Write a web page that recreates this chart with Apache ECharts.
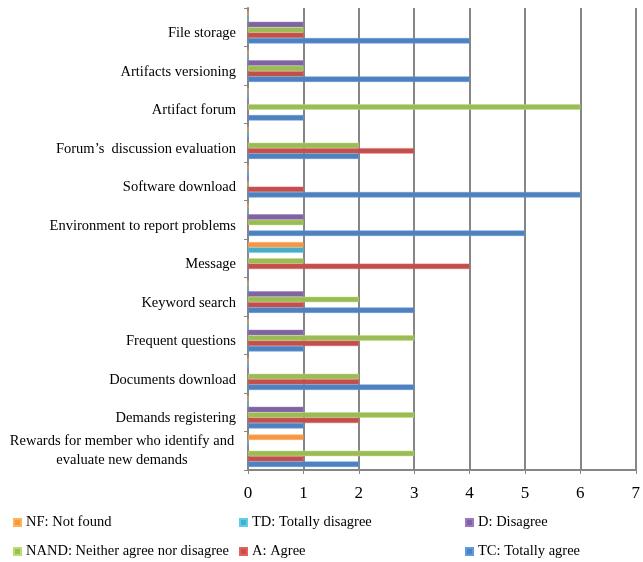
<!DOCTYPE html>
<html>
<head>
<meta charset="utf-8">
<script src="https://cdn.jsdelivr.net/npm/echarts@6/dist/echarts.min.js"></script>
<style>
  html, body { margin: 0; padding: 0; background: #fff; }
  #chart { width: 643px; height: 562px; }
</style>
</head>
<body>
<div id="chart"></div>
<script>
const categories = [
  'File storage',
  'Artifacts versioning',
  'Artifact forum',
  'Forum\u2019s  discussion evaluation',
  'Software download',
  'Environment to report problems',
  'Message',
  'Keyword search',
  'Frequent questions',
  'Documents download',
  'Demands registering',
  'Rewards for member who identify and\nevaluate new demands'
];

// values per category, top to bottom
const nf   = [0, 0, 0, 0, 0, 0, 1, 0, 0, 0, 0, 1];
const td   = [0, 0, 0, 0, 0, 0, 1, 0, 0, 0, 0, 0];
const dis  = [1, 1, 0, 0, 0, 1, 0, 1, 1, 0, 1, 0];
const nand = [1, 1, 6, 2, 0, 1, 1, 2, 3, 2, 3, 3];
const agr  = [1, 1, 0, 3, 1, 0, 4, 1, 2, 2, 2, 1];
const tc   = [4, 4, 1, 2, 6, 5, 0, 3, 1, 3, 1, 2];

const xTicks = [0, 1, 2, 3, 4, 5, 6, 7];

const seriesDefs = [
  { name: 'NF: Not found', data: nf, color: '#F79646' },
  { name: 'TD: Totally disagree', data: td, color: '#4BACC6' },
  { name: 'D: Disagree', data: dis, color: '#8064A2' },
  { name: 'NAND: Neither agree nor disagree', data: nand, color: '#9BBB59' },
  { name: 'A: Agree', data: agr, color: '#C0504D' },
  { name: 'TC: Totally agree', data: tc, color: '#4F81BD' }
];

const serif = '"Liberation Serif", "DejaVu Serif", serif';

// legend grid: 3 columns, 2 rows
const legendLeft = [13, 239, 465];
const legendTop = [515, 544];

const legends = seriesDefs.map(function (s, i) {
  return {
    left: legendLeft[i % 3],
    top: legendTop[Math.floor(i / 3)],
    padding: 0,
    itemWidth: 7,
    itemHeight: 7,
    itemGap: 0,
    icon: 'rect',
    data: [s.name],
    textStyle: { fontFamily: serif, fontSize: 14.5, color: '#000' }
  };
});

const chart = echarts.init(document.getElementById('chart'));
chart.setOption({
  animation: false,
  grid: { left: 248, top: 8, width: 400, height: 462 },
  legend: legends,
  xAxis: {
    type: 'value',
    min: xTicks[0],
    max: xTicks[xTicks.length - 1],
    interval: 1,
    axisLine: { show: true, lineStyle: { color: '#868686', width: 2 } },
    axisTick: { show: true, length: 4, lineStyle: { color: '#868686' } },
    axisLabel: { fontFamily: serif, fontSize: 17, color: '#000', margin: 15 },
    splitLine: { show: true, lineStyle: { color: '#868686', width: 2 } }
  },
  yAxis: {
    type: 'category',
    inverse: true,
    data: categories,
    axisLine: { show: true, lineStyle: { color: '#868686', width: 2 } },
    axisTick: { show: true, length: 4, lineStyle: { color: '#868686' } },
    axisLabel: {
      interval: 0,
      hideOverlap: false,
      fontFamily: serif,
      fontSize: 14.5,
      color: '#000',
      margin: 12,
      lineHeight: 19,
      formatter: function (v) {
        if (v.indexOf('\n') < 0) return '{s|' + v + '}';
        return v.split('\n').map(function (s) { return '{c|' + s + '}'; }).join('\n');
      },
      rich: {
        s: { fontFamily: serif, fontSize: 14.5, color: '#000', padding: [12, 0, 0, 0] },
        c: { fontFamily: serif, fontSize: 14.5, color: '#000', width: 228, align: 'center', lineHeight: 19 }
      }
    }
  },
  series: seriesDefs.map(function (s) {
    return {
      name: s.name,
      type: 'bar',
      data: s.data,
      barGap: '0%',
      barCategoryGap: '16%',
      itemStyle: { color: s.color, borderColor: echarts.color.lift(s.color, -0.2), borderWidth: 0.5 }
    };
  })
});
</script>
</body>
</html>
